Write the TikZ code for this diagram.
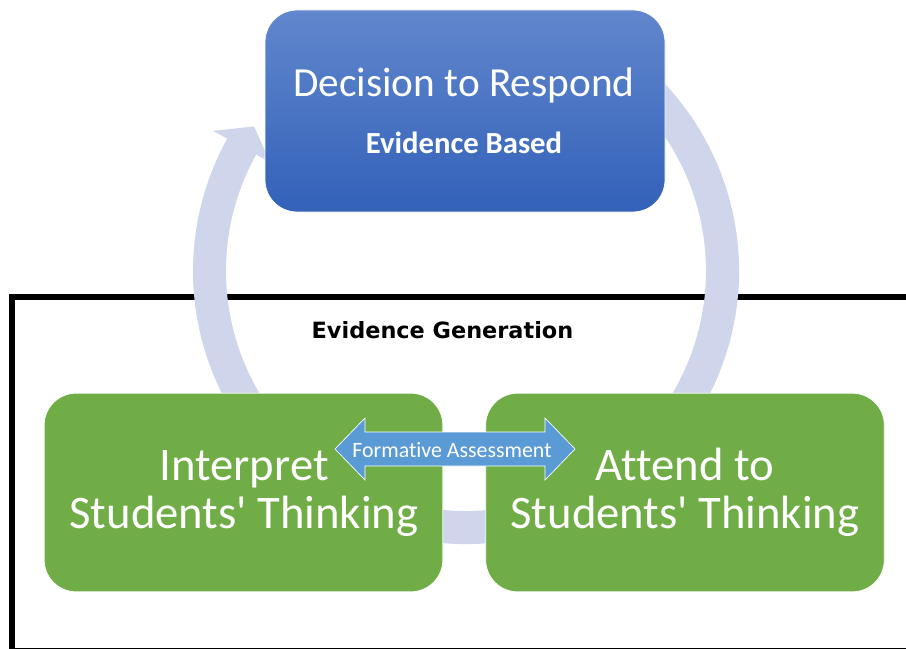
\documentclass[tikz,border=0pt]{standalone}
\usepackage{fontspec}
\setmainfont{Carlito}[Ligatures={NoCommon}]
\newfontfamily\genfont{DejaVu Sans}
\usetikzlibrary{calc}

\definecolor{ringcol}{RGB}{207,213,234}
\definecolor{greenbox}{RGB}{112,173,71}
\definecolor{bluetop}{RGB}{97,135,205}
\definecolor{bluebot}{RGB}{51,97,185}
\definecolor{arrowblue}{RGB}{91,155,213}

\begin{document}
\begin{tikzpicture}[x=0.75pt,y=-0.75pt,
  frame/.style={draw=black,line width=4.5pt},
  stagebox/.style={rectangle,rounded corners=24pt,inner sep=0pt,
    draw=white,line width=0.6pt},
  greenstage/.style={stagebox,fill=greenbox,
    minimum width=299pt,minimum height=149pt},
  bluestage/.style={stagebox,top color=bluetop,bottom color=bluebot,
    minimum width=300pt,minimum height=151.5pt},
  lbl/.style={inner sep=0pt,anchor=base,text=white},
  titletxt/.style={lbl,font=\fontsize{31}{37}\selectfont},
  subtxt/.style={lbl,font=\bfseries\fontsize{23}{28}\selectfont},
  bigtxt/.style={lbl,font=\fontsize{35}{42}\selectfont},
  smalltxt/.style={lbl,font=\fontsize{16.4}{20}\selectfont},
  gentxt/.style={inner sep=0pt,anchor=base,text=black,
    font=\genfont\bfseries\fontsize{16.8}{20}\selectfont}]

\clip (0,0) rectangle (906,649);
\fill[white] (0,0) rectangle (906,649);

% frame around the evidence-generation stages
\draw[frame] (12,297) rectangle (940,651);

% circular cycle arrow
\coordinate (ctr) at (466,271);
\fill[ringcol,shift={(ctr)}]
  (-70:273) arc[start angle=-70,end angle=209,radius=273]
  -- (209:289) -- (214.3:256.5) -- (209:224) -- (209:240)
  arc[start angle=209,end angle=-70,radius=240] -- cycle;

% stage boxes
\node[bluestage]  (respond)   at (465,111)   {};
\node[greenstage] (interpret) at (243.5,492.5) {};
\node[greenstage] (attend)    at (685,492.5) {};

% formative assessment double arrow
\fill[arrowblue,draw=white,line width=0.5pt]
  (335,449) -- (365,418) -- (365,432) -- (545,432) -- (545,418)
  -- (575,449) -- (545,480) -- (545,466) -- (365,466) -- (365,480) -- cycle;
\node[smalltxt] (formative) at (452,457) {Formative Assessment};

% labels
\node[titletxt] (respondA) at (464,97)  {Decision to Respond};
\node[subtxt]   (respondB) at (464,154) {Evidence Based};
\node[bigtxt] (interpretA) at (244,480) {Interpret};
\node[bigtxt] (interpretB) at (244,528) {Students\textquotesingle\ Thinking};
\node[bigtxt] (attendA) at (685,480) {Attend to};
\node[bigtxt] (attendB) at (685,528) {Students\textquotesingle\ Thinking};
\node[gentxt] (generation) at (442.5,338) {Evidence Generation};
\end{tikzpicture}
\end{document}
